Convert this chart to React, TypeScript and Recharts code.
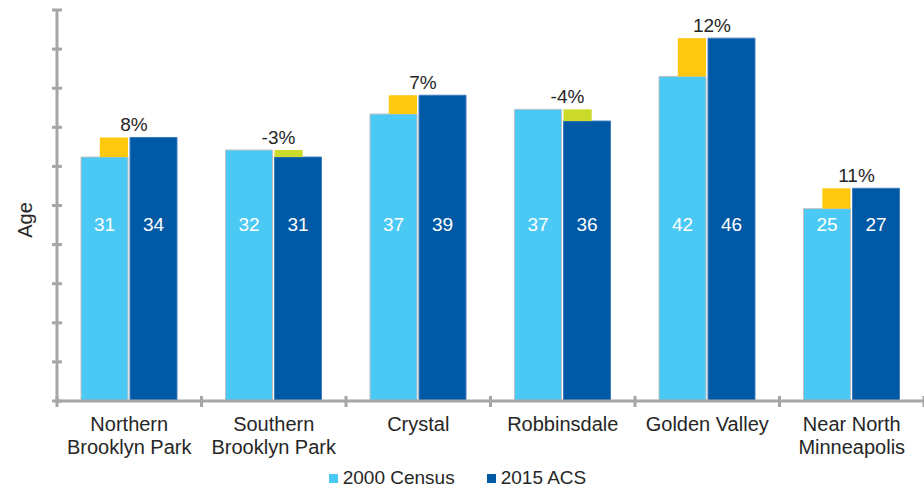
import { BarChart, Bar, XAxis, YAxis, Legend, LabelList, Label } from "recharts";

const categories = [
  "Northern\nBrooklyn Park",
  "Southern\nBrooklyn Park",
  "Crystal",
  "Robbinsdale",
  "Golden Valley",
  "Near North\nMinneapolis",
];
const census2000 = [31.2, 32.1, 36.7, 37.3, 41.5, 24.6];
const acs2015 = [33.7, 31.2, 39.1, 35.8, 46.4, 27.2];
const yTicks = [0, 5, 10, 15, 20, 25, 30, 35, 40, 45, 50];
const seriesNames = ["2000 Census", "2015 ACS"];

const data = categories.map((name, i) => ({
  name,
  c2000: census2000[i],
  c2015: acs2015[i],
  up: Math.max(0, acs2015[i] - census2000[i]),
  down: Math.max(0, census2000[i] - acs2015[i]),
}));

const W = 924;
const H = 490;
const Y_AXIS_W = 57;
const BAND = (W - Y_AXIS_W) / categories.length;
const LABEL_AT = 22.6; // value level where the in-bar numbers sit

const AXIS = "#a6a6a6";
const TEXT = "#262626";
const LIGHT = "#4bc9f5";
const DARK = "#0059a5";
const UP = "#fdc90f";
const DOWN = "#ccdb2a";
const FONT = '"Liberation Sans", Arial, sans-serif';

const box = (p: any) => p.viewBox ?? p;

const XTick = (props: any) => {
  const { x, y, payload, index } = props;
  const lines = String(payload.value).split("\n");
  const half = BAND / 2;
  return (
    <g>
      <line x1={x - half} x2={x - half} y1={y - 5} y2={y + 6} stroke={AXIS} strokeWidth={3} />
      {index === categories.length - 1 && (
        <line x1={x + half} x2={x + half} y1={y - 5} y2={y + 6} stroke={AXIS} strokeWidth={3} />
      )}
      <text x={x} y={y + 30} textAnchor="middle" fontSize={20} fill={TEXT} fontFamily={FONT}>
        {lines.map((l, i) => (
          <tspan key={i} x={x} dy={i === 0 ? 0 : 23}>
            {l}
          </tspan>
        ))}
      </text>
    </g>
  );
};

const YTick = ({ x, y }: any) => (
  <line x1={x - 5} x2={x + 5} y1={y} y2={y} stroke={AXIS} strokeWidth={3} />
);

// change segment: narrower than the bar, hugging the inner edge
const upShape = ({ x, y, width, height, fill }: any) =>
  height > 0 ? <rect x={x + width * 0.4} y={y} width={width * 0.6} height={height} fill={fill} /> : <g />;
const downShape = ({ x, y, width, height, fill }: any) =>
  height > 0 ? <rect x={x} y={y} width={width * 0.6} height={height} fill={fill} /> : <g />;

const inBarLabel = (props: any) => {
  const { x, y, width, height } = box(props);
  const value = Number(props.value);
  const ly = y + height - (height / value) * LABEL_AT;
  return (
    <text x={x + width / 2} y={ly} textAnchor="middle" dominantBaseline="central" fill="#fff" fontSize={19} fontFamily={FONT}>
      {Math.round(value)}
    </text>
  );
};

const pctLabel = (props: any) => {
  const { x, y, width, height } = box(props);
  const d = data[props.index];
  const base = y + height;
  const top = base - (height / d.c2015) * Math.max(d.c2000, d.c2015);
  const pct = Math.round((d.c2015 / d.c2000 - 1) * 100);
  return (
    <text x={x + 4} y={top - 6} textAnchor="middle" fill={TEXT} fontSize={19} fontFamily={FONT}>
      {`${pct}%`}
    </text>
  );
};

const LegendBox = () => (
  <div
    style={{
      display: "flex",
      justifyContent: "center",
      gap: 32,
      paddingRight: 9,
      fontFamily: FONT,
      fontSize: 19,
      lineHeight: "18px",
      color: TEXT,
    }}
  >
    {seriesNames.map((n, i) => (
      <span key={n} style={{ display: "flex", alignItems: "center" }}>
        <span style={{ width: 9, height: 9, background: i === 0 ? LIGHT : DARK, marginRight: 5 }} />
        {n}
      </span>
    ))}
  </div>
);

export default function App() {
  return (
    <div style={{ position: "absolute", left: 0, top: 0, width: W, height: H, background: "#fff" }}>
      <BarChart
        width={W}
        height={H}
        data={data}
        margin={{ top: 10, right: 0, left: 0, bottom: 0 }}
        barSize={47}
        barGap={2}
      >
        <XAxis
          dataKey="name"
          height={89}
          interval={0}
          tickSize={0}
          tickMargin={0}
          tickLine={false}
          axisLine={{ stroke: AXIS, strokeWidth: 3 }}
          tick={<XTick />}
        />
        <YAxis
          width={Y_AXIS_W}
          domain={[0, 50]}
          ticks={yTicks}
          interval={0}
          tickSize={0}
          tickMargin={0}
          tickLine={false}
          axisLine={{ stroke: AXIS, strokeWidth: 3 }}
          tick={<YTick />}
        >
          <Label
            value="Age"
            angle={-90}
            position="center"
            dx={-3.5}
            dy={14.5}
            fontSize={20}
            fill={TEXT}
            fontFamily={FONT}
          />
        </YAxis>
        <Legend
          verticalAlign="middle"
          align="center"
          wrapperStyle={{ top: 469, left: 0, width: W }}
          content={<LegendBox />}
        />
        <Bar dataKey="c2000" name={seriesNames[0]} stackId="a" fill={LIGHT} stroke="#c0c0c0" strokeWidth={1} isAnimationActive={false}>
          <LabelList dataKey="c2000" content={inBarLabel} />
        </Bar>
        <Bar dataKey="up" stackId="a" fill={UP} shape={upShape} legendType="none" isAnimationActive={false} />
        <Bar dataKey="c2015" name={seriesNames[1]} stackId="b" fill={DARK} stroke="#3f7cbf" strokeWidth={1} isAnimationActive={false}>
          <LabelList dataKey="c2015" content={inBarLabel} />
          <LabelList dataKey="c2015" content={pctLabel} />
        </Bar>
        <Bar dataKey="down" stackId="b" fill={DOWN} shape={downShape} legendType="none" isAnimationActive={false} />
      </BarChart>
    </div>
  );
}
